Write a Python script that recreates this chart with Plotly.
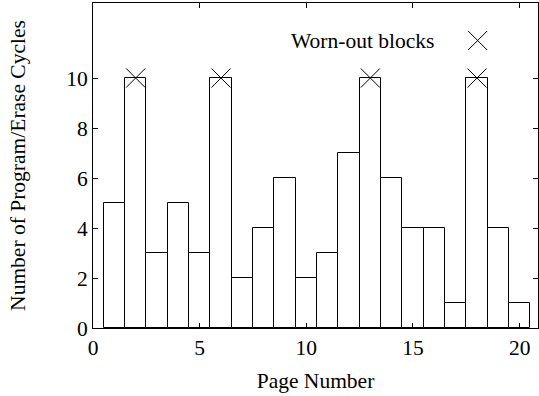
import plotly.graph_objects as go

pages = list(range(1, 21))
cycles = [5, 10, 3, 5, 3, 10, 2, 4, 6, 2, 3, 7, 10, 6, 4, 4, 1, 10, 4, 1]
worn_pages = [2, 6, 13, 18]
worn_cycles = [10, 10, 10, 10]
x_ticks = [0, 5, 10, 15, 20]
y_ticks = [0, 2, 4, 6, 8, 10]

FONT = "Liberation Serif"
FS = 21.5

fig = go.Figure()
fig.add_trace(go.Bar(
    x=pages, y=cycles, width=1.0,
    marker=dict(color="white", line=dict(color="black", width=1)),
    showlegend=False,
))
fig.add_trace(go.Scatter(
    x=worn_pages, y=worn_cycles, mode="markers",
    marker=dict(symbol="x-thin", size=19, line=dict(color="black", width=1)),
    showlegend=False,
))
# legend key (text left, symbol right, as in the reference)
fig.add_trace(go.Scatter(
    x=[18.03], y=[11.5], mode="markers",
    marker=dict(symbol="x-thin", size=19, line=dict(color="black", width=1)),
    showlegend=False,
))
fig.add_annotation(
    x=16.07, y=11.5, xref="x", yref="y", text="Worn-out blocks",
    showarrow=False, xanchor="right", yanchor="middle",
    font=dict(family=FONT, size=FS, color="black"),
)

axis_common = dict(
    showline=True, linecolor="black", linewidth=1, mirror="ticks",
    ticks="inside", ticklen=5, tickcolor="black", tickwidth=1,
    showgrid=False, zeroline=False,
    tickfont=dict(family=FONT, size=FS, color="black"),
    title_font=dict(family=FONT, size=FS, color="black"),
)
fig.update_xaxes(range=[0, 20.86], tickvals=x_ticks, title_text="Page Number",
                 title_standoff=14, **axis_common)
fig.update_yaxes(range=[0, 13], tickvals=y_ticks,
                 title_text="Number of Program/Erase Cycles", title_standoff=34,
                 **axis_common)

fig.update_layout(
    width=539, height=396,
    margin=dict(l=93, r=1, t=3, b=68, autoexpand=False),
    plot_bgcolor="white", paper_bgcolor="white",
    bargap=0,
    font=dict(family=FONT, color="black"),
)

fig.write_html("out.html")
